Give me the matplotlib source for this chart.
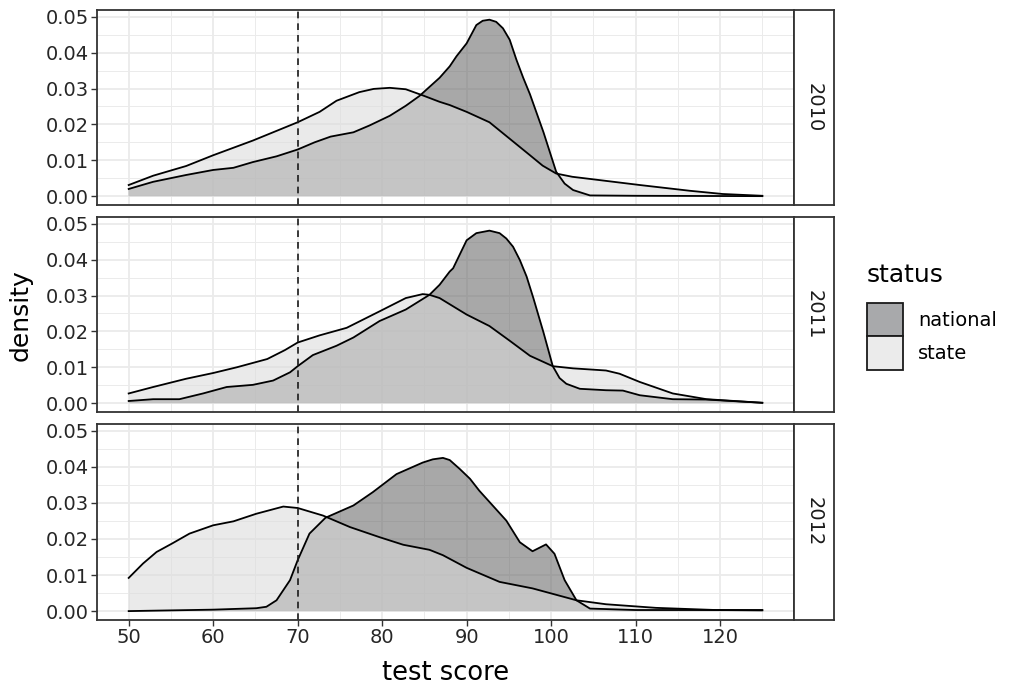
import matplotlib
matplotlib.use("Agg")
import matplotlib.pyplot as plt
from matplotlib.patches import Patch
from matplotlib.ticker import MultipleLocator, FormatStrFormatter

plt.rcParams['font.family'] = ['DejaVu Sans']

years = ['2010', '2011', '2012']

# density curves (test score, density)
nat_2010_x = [50, 52.9, 56.8, 60, 62.4, 64.7, 67.5, 70, 72, 73.9, 76.6, 78.5, 80.9, 82.8, 84.4, 86.8, 88, 88.8,
              90, 91.15, 91.9, 92.7, 93.5, 94.3, 95.1, 95.9, 96.7, 97.5, 99.1, 100.6, 101.6, 102.6, 104.6, 110, 125]
nat_2010_y = [.0020, .0040, .0059, .0073, .0079, .0095, .0111, .0130, .0150, .0166, .0178, .0197, .0224, .0252,
              .0279, .0330, .0362, .0390, .0426, .0477, .0489, .0492, .0486, .0468, .0436, .0380, .0330, .0284,
              .0178, .0068, .0035, .0017, .0002, .0001, .0000]
sta_2010_x = [50, 52.9, 56.8, 60, 64.7, 70, 72.6, 74.6, 77.3, 79, 80.9, 82.8, 84.8, 86.8, 88, 90, 92.7, 95.1, 97.5,
              99, 100.6, 102.5, 104.6, 110.5, 116.4, 120.3, 125]
sta_2010_y = [.0031, .0057, .0084, .0114, .0155, .0206, .0235, .0266, .0290, .0299, .0302, .0298, .0281, .0263,
              .0254, .0235, .0206, .0160, .0114, .0085, .0063, .0054, .0048, .0031, .0015, .0006, .0001]

nat_2011_x = [50, 52.9, 56, 58.8, 61.6, 64.7, 67.1, 69.1, 70, 71.8, 74.6, 76.6, 79.7, 82.8, 85.6, 86.8, 88, 88.4,
              90, 91.15, 92.7, 93.9, 94.7, 95.5, 96.3, 97.1, 97.9, 99.1, 100.2, 101, 101.8, 103.4, 106.5, 108.5,
              110.5, 114.4, 118.4, 125]
nat_2011_y = [.0006, .0011, .0011, .0027, .0045, .0051, .0063, .0086, .0103, .0134, .0160, .0183, .0229, .0261,
              .0302, .0330, .0367, .0376, .0454, .0474, .0481, .0474, .0459, .0436, .0399, .0353, .0293, .0197,
              .0103, .0070, .0054, .0040, .0036, .0035, .0022, .0011, .0010, .0001]
sta_2011_x = [50, 52.9, 56.8, 60, 62.8, 66.4, 68.5, 70, 72.6, 75.8, 79.7, 82.8, 84.8, 85.6, 86.8, 90, 92.7, 95.1,
              97.5, 100.2, 102.6, 106.5, 108.1, 110.5, 114.4, 118.4, 125]
sta_2011_y = [.0027, .0045, .0068, .0084, .0100, .0123, .0148, .0169, .0189, .0210, .0256, .0293, .0304, .0302,
              .0293, .0247, .0215, .0174, .0132, .0103, .0097, .0091, .0082, .0059, .0027, .0011, .0001]

nat_2012_x = [50, 60, 65.1, 66.3, 67.5, 69.1, 70, 71.4, 73.3, 76.6, 78.9, 81.7, 84.8, 86, 87.2, 88, 89.2, 90.4,
              91.5, 94.7, 96.3, 97.8, 99.4, 100.4, 101.6, 103, 104.6, 110, 125]
nat_2012_y = [.0000, .0004, .0008, .0012, .0030, .0086, .0141, .0215, .0259, .0293, .0330, .0380, .0412, .0421,
              .0425, .0419, .0394, .0367, .0334, .0251, .0191, .0166, .0185, .0159, .0086, .0030, .0007, .0003, .0003]
sta_2012_x = [50, 51.7, 53.3, 55.1, 57.2, 60, 62.4, 65.1, 68.3, 70, 73, 76.2, 79.7, 82.5, 85.6, 87.2, 90, 93.9,
              97.8, 103, 106.5, 112.4, 119.5, 125]
sta_2012_y = [.0092, .0132, .0164, .0187, .0215, .0238, .0249, .0270, .0290, .0286, .0265, .0233, .0205, .0184,
              .0170, .0155, .0120, .0081, .0063, .0030, .0019, .0009, .0003, .0002]

national = [(nat_2010_x, nat_2010_y), (nat_2011_x, nat_2011_y), (nat_2012_x, nat_2012_y)]
state = [(sta_2010_x, sta_2010_y), (sta_2011_x, sta_2011_y), (sta_2012_x, sta_2012_y)]

cutoff = 70
nat_fill = '#686868'
sta_fill = '#dcdcdc'
fill_alpha = 0.575
dark = '#1a1a1a'
txt = '#262626'

W, H = 1009, 688
fig = plt.figure(figsize=(W / 100, H / 100), dpi=100)

panels = [(10, 205), (217, 412), (424, 620)]
left, right = 97, 794
strip_w = 40

for i, (top, bot) in enumerate(panels):
    ax = fig.add_axes([left / W, 1 - bot / H, (right - left) / W, (bot - top) / H])
    ax.set_xlim(46.25, 128.75)
    ax.set_ylim(-0.00247, 0.0519)
    ax.xaxis.set_major_locator(MultipleLocator(10))
    ax.xaxis.set_minor_locator(MultipleLocator(5))
    ax.yaxis.set_major_locator(MultipleLocator(0.01))
    ax.yaxis.set_minor_locator(MultipleLocator(0.005))
    ax.yaxis.set_major_formatter(FormatStrFormatter('%.2f'))
    ax.grid(which='major', color='#ebebeb', lw=1.3)
    ax.grid(which='minor', color='#ebebeb', lw=0.7)
    ax.set_axisbelow(True)
    ax.tick_params(which='minor', length=0)
    ax.tick_params(which='major', length=4, width=1, color='#333333', labelsize=14, labelcolor=txt, pad=2)
    for s in ax.spines.values():
        s.set_color('#333333')
        s.set_linewidth(1.3)

    nx, ny = national[i]
    sx, sy = state[i]
    ax.fill_between(nx, 0, ny, facecolor=nat_fill, alpha=fill_alpha, lw=0)
    ax.plot(nx, ny, color='black', lw=1.3, solid_joinstyle='round')
    ax.fill_between(sx, 0, sy, facecolor=sta_fill, alpha=fill_alpha, lw=0)
    ax.plot(sx, sy, color='black', lw=1.3, solid_joinstyle='round')
    ax.axvline(cutoff, color=dark, ls=(0, (4, 3)), lw=1.2)

    if i < 2:
        ax.tick_params(axis='x', labelbottom=False, length=0)
    else:
        ax.set_xticks(range(50, 121, 10))

    # facet strip on the right
    sax = fig.add_axes([right / W, 1 - bot / H, strip_w / W, (bot - top) / H])
    sax.set_xticks([])
    sax.set_yticks([])
    for s in sax.spines.values():
        s.set_color('#333333')
        s.set_linewidth(1.3)
    sax.text(0.5, 0.5, years[i], rotation=270, ha='center', va='center', fontsize=14, color=dark,
             transform=sax.transAxes)

fig.text(21 / W, 1 - 315 / H, 'density', rotation=90, ha='center', va='center', fontsize=18, color='black')
fig.text(446 / W, 1 - 680 / H, 'test score', ha='center', va='baseline', fontsize=18.5, color='black')

# legend: title as text, keys below
fig.text(867 / W, 1 - 282 / H, 'status', ha='left', va='baseline', fontsize=18, color='black')
handles = [Patch(facecolor='#a8a9ab', edgecolor=dark, lw=1.3, label='national'),
           Patch(facecolor='#ebebeb', edgecolor=dark, lw=1.3, label='state')]
leg = fig.legend(handles=handles, loc='upper left', bbox_to_anchor=(867 / W, 1 - 303 / H),
                 frameon=False, fontsize=14, borderpad=0, borderaxespad=0,
                 handlelength=1.85, handleheight=2.27, labelspacing=0.0, handletextpad=0.77)

fig.savefig('out.png', dpi=100)
